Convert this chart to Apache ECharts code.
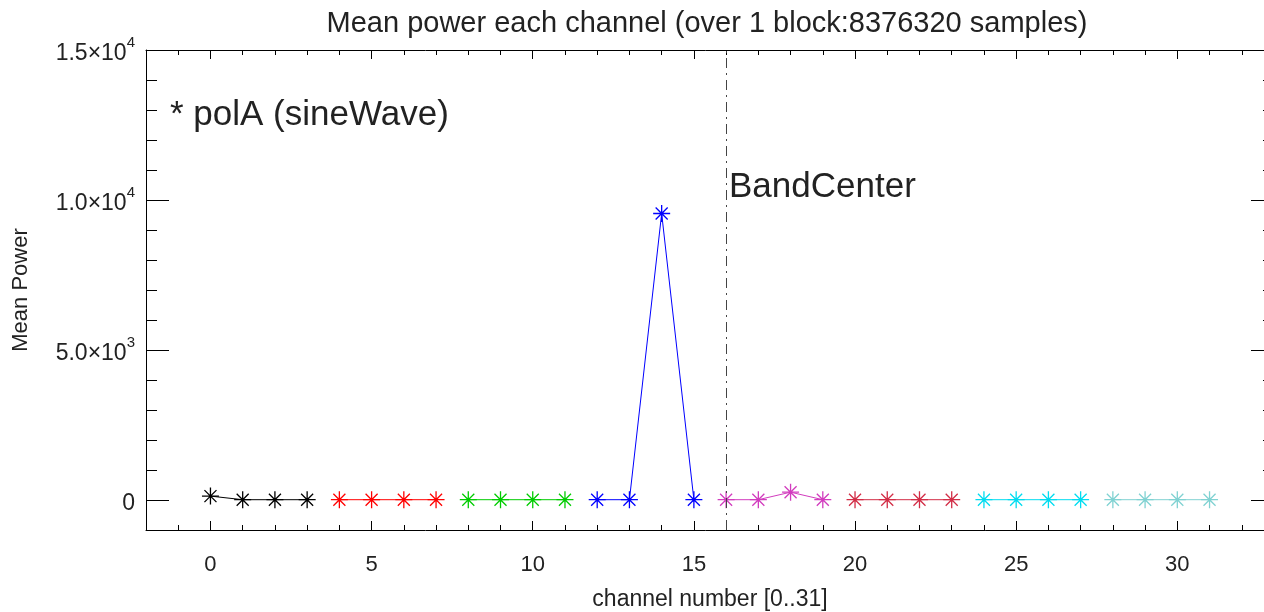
<!DOCTYPE html>
<html><head><meta charset="utf-8">
<script src="https://cdn.jsdelivr.net/npm/echarts@6/dist/echarts.min.js"></script>
<style>html,body{margin:0;padding:0;background:#fff}#c{width:1264px;height:612px}</style>
</head><body><div id="c"></div>
<script>
// ---- data ----
const channels = [0,1,2,3,4,5,6,7,8,9,10,11,12,13,14,15,16,17,18,19,20,21,22,23,24,25,26,27,28,29,30,31];
const power = [130,10,10,10, 10,10,10,10, 10,10,10,10, 10,10,9550,10, 10,10,260,10, 10,10,10,10, 10,10,10,10, 10,10,10,10];
const groupColors = ['#000000','#ff0000','#00cc00','#0000ff','#d23cbe','#d22d46','#00dcf0','#80d2d2'];
const xMajorTicks = [0,5,10,15,20,25,30];
const yMajorTicks = [0,5000,10000,15000];
const bandCenter = 16;
const titleText = 'Mean power each channel (over 1 block:8376320 samples)';
const xName = 'channel number [0..31]';
const yName = 'Mean Power';
const legendText = '* polA (sineWave)';
const bandText = 'BandCenter';

const FONT = 'Liberation Sans';
const TXT = '#222';
const chart = echarts.init(document.getElementById('c'), null, {renderer:'canvas'});

function sciLabel(v){
  if (v === 0) return '{m|0}';
  const e = Math.floor(Math.log10(Math.abs(v)) + 1e-9);
  const m = (v / Math.pow(10, e)).toFixed(1);
  return '{m|' + m + '×10}{s|' + e + '}';
}

const star = 'path://M0,-10L0,10M-10,0L10,0M-7.07,-7.07L7.07,7.07M-7.07,7.07L7.07,-7.07';
const series = [];
for (let g = 0; g < groupColors.length; g++) {
  const data = [];
  for (let i = 0; i < 4; i++) data.push([channels[g*4+i], power[g*4+i]]);
  series.push({
    type:'line', xAxisIndex:0, yAxisIndex:0, data,
    symbol: star, symbolSize: 17, showSymbol:true,
    lineStyle:{color:groupColors[g], width:1},
    itemStyle:{color:groupColors[g], borderColor:groupColors[g], borderWidth:1.3},
    animation:false, silent:true,
    markLine: g === 0 ? {
      symbol:'none', silent:true, animation:false,
      label:{show:false},
      lineStyle:{color:'#444', width:1, type:[10,5,2,5]},
      data:[{xAxis: bandCenter}]
    } : undefined
  });
}

const xBase = {type:'value', min:-2, max:33, gridIndex:0, splitLine:{show:false}};
const yBase = {type:'value', min:-1000, max:15000, gridIndex:0, splitLine:{show:false}};
const axLine = {show:true, onZero:false, lineStyle:{color:'#000', width:1}};
const noLine = {show:false, onZero:false};

chart.setOption({
  animation:false,
  backgroundColor:'#fff',
  title:{text:titleText, left:702, top:4, textAlign:'center',
    textStyle:{fontFamily:FONT, fontSize:29, fontWeight:'normal', color:TXT}},
  grid:{left:146, width:1128, top:50, height:480, containLabel:false, outerBoundsMode:'none'},
  xAxis:[
    Object.assign({}, xBase, {position:'bottom', axisLine:axLine,
      axisTick:{show:true, inside:true, length:9, customValues:xMajorTicks, lineStyle:{color:'#000'}},
      axisLabel:{show:true, customValues:xMajorTicks, margin:24, fontFamily:FONT, fontSize:22, color:TXT},
      name:xName, nameLocation:'middle', nameGap:58,
      nameTextStyle:{fontFamily:FONT, fontSize:23, color:TXT}}),
    Object.assign({}, xBase, {position:'bottom', interval:1, axisLine:noLine,
      axisTick:{show:true, inside:true, length:5, lineStyle:{color:'#000'}}, axisLabel:{show:false}}),
    Object.assign({}, xBase, {position:'top', axisLine:axLine,
      axisTick:{show:true, inside:true, length:9, customValues:xMajorTicks, lineStyle:{color:'#000'}},
      axisLabel:{show:false}}),
    Object.assign({}, xBase, {position:'top', interval:1, axisLine:noLine,
      axisTick:{show:true, inside:true, length:5, lineStyle:{color:'#000'}}, axisLabel:{show:false}})
  ],
  yAxis:[
    Object.assign({}, yBase, {position:'left', axisLine:axLine,
      axisTick:{show:true, inside:true, length:23, customValues:yMajorTicks, lineStyle:{color:'#000'}},
      axisLabel:{show:true, customValues:yMajorTicks, margin:11, formatter:sciLabel,
        rich:{
          m:{fontFamily:FONT, fontSize:23, color:TXT, lineHeight:30, verticalAlign:'bottom'},
          s:{fontFamily:FONT, fontSize:15, color:TXT, lineHeight:14, verticalAlign:'top'}
        }},
      name:yName, nameLocation:'middle', nameGap:114, nameRotate:90,
      nameTextStyle:{fontFamily:FONT, fontSize:22, color:TXT}}),
    Object.assign({}, yBase, {position:'left', interval:1000, axisLine:noLine,
      axisTick:{show:true, inside:true, length:11, lineStyle:{color:'#000'}}, axisLabel:{show:false}}),
    Object.assign({}, yBase, {position:'right', axisLine:axLine,
      axisTick:{show:true, inside:true, length:23, customValues:yMajorTicks, lineStyle:{color:'#000'}},
      axisLabel:{show:false}}),
    Object.assign({}, yBase, {position:'right', interval:1000, axisLine:noLine,
      axisTick:{show:true, inside:true, length:11, lineStyle:{color:'#000'}}, axisLabel:{show:false}})
  ],
  graphic:[
    {type:'text', left:170, top:98, style:{text:legendText, fontFamily:FONT, fontSize:35, fill:TXT}},
    {type:'text', left:729, top:170, style:{text:bandText, fontFamily:FONT, fontSize:35, fill:TXT}}
  ],
  series
});
</script>
</body></html>
